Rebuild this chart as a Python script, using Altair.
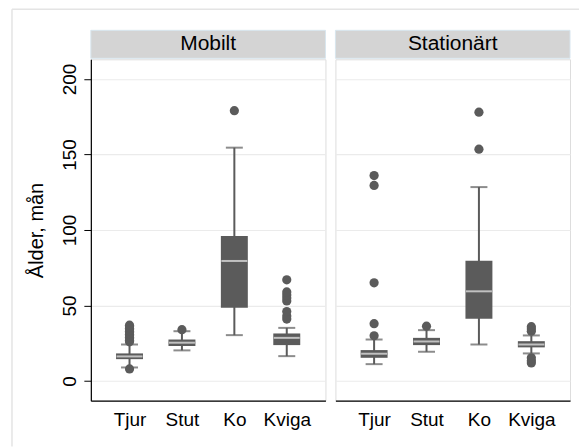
import altair as alt
import pandas as pd

cats = ["Tjur", "Stut", "Ko", "Kviga"]
panels = ["Mobilt", "Stationärt"]

# Mobilt
m_q1 = [14.5, 23.2, 48.5, 23.8]
m_med = [16.3, 25.4, 79.5, 28.6]
m_q3 = [18.3, 27.5, 96.0, 31.5]
m_lo = [9.0, 20.3, 30.4, 16.5]
m_hi = [24.2, 33.0, 154.5, 35.2]
m_out_cat = ["Tjur"] * 13 + ["Stut"] + ["Ko"] + ["Kviga"] * 8
m_out_val = [8, 26, 27, 28, 29, 30, 31, 32, 33, 34, 35, 36, 37,
             34,
             179,
             41, 43, 46, 53, 55, 57, 59, 67]

# Stationärt
s_q1 = [15.4, 23.8, 41.2, 22.3]
s_med = [18.1, 26.2, 59.4, 24.2]
s_q3 = [20.5, 28.6, 79.7, 26.4]
s_lo = [11.2, 19.4, 24.2, 18.3]
s_hi = [27.5, 33.7, 128.4, 30.2]
s_out_cat = ["Tjur"] * 5 + ["Stut"] + ["Ko"] * 2 + ["Kviga"] * 6
s_out_val = [30, 38, 65, 129.5, 136,
             36.3,
             153.5, 178,
             12, 13.5, 15.4, 33, 34.5, 36]

yticks = [0, 50, 100, 150, 200]
ydomain = [-13, 213]

W = 235
H = 342
DARK = "#5b5b5b"
FONT = "Liberation Sans"


def make_panel(name, q1, med, q3, lo, hi, out_cat, out_val, show_y):
    box = pd.DataFrame({"cat": cats, "q1": q1, "med": med, "q3": q3, "lo": lo, "hi": hi})
    out = pd.DataFrame({"cat": out_cat, "value": out_val})

    xenc = alt.X("cat:N", scale=alt.Scale(type="point", domain=cats, padding=0.738),
                 axis=alt.Axis(title=None, ticks=False, labelAngle=0, labelFontSize=19,
                               labelPadding=10, labelColor="black", domainColor="black",
                               domainWidth=1.2, grid=False, labelFont=FONT))
    if show_y:
        yaxis = alt.Axis(values=yticks, grid=True, gridColor="#ebebeb", gridWidth=1.2,
                         tickSize=7, tickColor="black", domainColor="black", domainWidth=1.2,
                         labelAngle=270, labelAlign="center", labelBaseline="alphabetic",
                         labelPadding=8, labelFontSize=19, labelColor="black", labelFont=FONT,
                         title="Ålder, mån", titleFontSize=20, titleFontWeight="normal",
                         titleColor="black", titlePadding=14, titleFont=FONT)
    else:
        yaxis = alt.Axis(values=yticks, grid=True, gridColor="#ebebeb", gridWidth=1.2,
                         labels=False, ticks=False, domain=False, title=None)
    ysc = alt.Scale(domain=ydomain, nice=False, zero=False)

    base = alt.Chart(box)
    whisk = base.mark_rule(color=DARK, strokeWidth=2).encode(
        x=xenc, y=alt.Y("lo:Q", scale=ysc, axis=yaxis), y2="hi:Q")
    cap_lo = base.mark_tick(color=DARK, size=17, thickness=2).encode(
        x=xenc, y=alt.Y("lo:Q", scale=ysc, axis=yaxis))
    cap_hi = base.mark_tick(color=DARK, size=17, thickness=2).encode(
        x=xenc, y=alt.Y("hi:Q", scale=ysc, axis=yaxis))
    bx = base.mark_bar(color=DARK, size=27).encode(
        x=xenc, y=alt.Y("q1:Q", scale=ysc, axis=yaxis), y2="q3:Q")
    md = base.mark_tick(color="#ececec", size=26, thickness=2).encode(
        x=xenc, y=alt.Y("med:Q", scale=ysc, axis=yaxis))
    pts = alt.Chart(out).mark_circle(color=DARK, size=85, opacity=1).encode(
        x=xenc, y=alt.Y("value:Q", scale=ysc, axis=yaxis))

    lab = pd.DataFrame({"label": [name]})
    strip = alt.Chart(lab).mark_rect(fill="#d4d4d4", stroke="#d8e6ee", strokeWidth=1).encode(
        x=alt.value(0), x2=alt.value(W), y=alt.value(-29), y2=alt.value(-1))
    stext = alt.Chart(lab).mark_text(fontSize=21, baseline="middle", align="center",
                                     color="black", font=FONT).encode(
        x=alt.value(W / 2), y=alt.value(-15), text="label:N")

    layers = [whisk, cap_lo, cap_hi, bx, md, pts, strip, stext]
    if show_y:
        fr = pd.DataFrame({"k": [0]})
        top = alt.Chart(fr).mark_rule(color="#e4e4e4", strokeWidth=1.5).encode(
            x=alt.value(-79), x2=alt.value(489), y=alt.value(-50))
        left = alt.Chart(fr).mark_rule(color="#e4e4e4", strokeWidth=1.5).encode(
            x=alt.value(-79), y=alt.value(-50), y2=alt.value(388))
        layers = [top, left] + layers
    return alt.layer(*layers).properties(width=W, height=H)


left = make_panel(panels[0], m_q1, m_med, m_q3, m_lo, m_hi, m_out_cat, m_out_val, True)
right = make_panel(panels[1], s_q1, s_med, s_q3, s_lo, s_hi, s_out_cat, s_out_val, False)

chart = alt.hconcat(left, right, spacing=10, bounds="flush").properties(
    padding={"left": 10, "top": 7, "right": 0, "bottom": 0}
).configure_view(strokeOpacity=0).configure(font=FONT)

chart.save("out.html", embed_options={"renderer": "svg", "actions": False})
